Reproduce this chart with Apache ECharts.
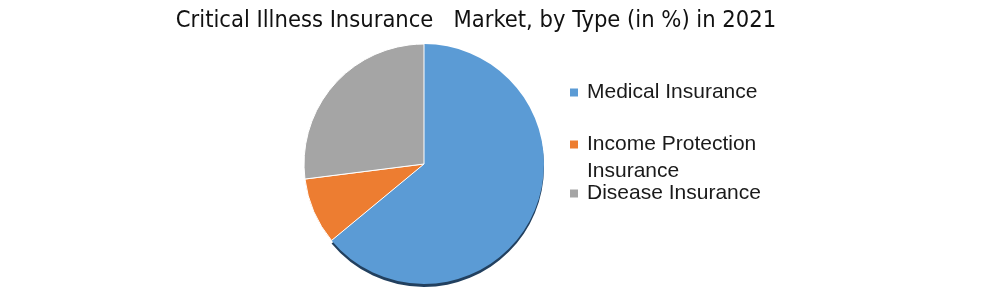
<!DOCTYPE html>
<html><head><meta charset="utf-8">
<script src="https://cdn.jsdelivr.net/npm/echarts@6/dist/echarts.min.js"></script>
<style>html,body{margin:0;padding:0;background:#fff}#c{width:994px;height:291px}</style>
</head><body><div id="c"></div>
<script>
const categories = ['Medical Insurance', 'Income Protection Insurance', 'Disease Insurance'];
const values = [64, 9, 27];
const colors = ['#5b9bd5', '#ed7d31', '#a5a5a5'];
const titleText = 'Critical Illness Insurance   Market, by Type (in %) in 2021';
const legendLines = ['Medical Insurance', 'Income Protection', 'Disease Insurance'];
const wrapLine = 'Insurance';

const chart = echarts.init(document.getElementById('c'));
const legendFont = {fontFamily: 'Liberation Sans', fontSize: 21, color: '#1a1a1a', padding: [0, 0, 0, 4]};
const legendCenters = [94, 146, 195];
const legends = categories.map((name, i) => ({
  orient: 'vertical', left: 570, top: legendCenters[i] - 12, itemWidth: 8, itemHeight: 8, itemGap: 0,
  icon: 'rect', selectedMode: false, padding: 0,
  itemStyle: {borderWidth: 0, shadowBlur: 0, shadowOffsetY: 0, shadowColor: 'transparent'},
  data: [name],
  formatter: () => legendLines[i],
  textStyle: legendFont
}));
chart.setOption({
  animation: false,
  color: colors,
  title: {text: titleText, left: 471, textAlign: 'center', top: 4,
    textStyle: {fontFamily: 'DejaVu Sans Condensed', fontSize: 23.5, fontWeight: 'normal', color: '#111'}},
  legend: legends,
  graphic: [{type: 'text', left: 587, top: 161,
    style: {text: wrapLine, font: '21px "Liberation Sans"', fill: '#1a1a1a'}}],
  series: [{
    type: 'pie', center: [424, 164], radius: 120, startAngle: 90, clockwise: true,
    label: {show: false}, labelLine: {show: false},
    itemStyle: {borderColor: '#fff', borderWidth: 1},
    data: categories.map((n, i) => ({name: n, value: values[i],
      itemStyle: i === 0 ? {borderWidth: 0, shadowColor: '#22405f', shadowBlur: 0, shadowOffsetY: 3, shadowOffsetX: 0} : {}}))
  }]
});
</script></body></html>
